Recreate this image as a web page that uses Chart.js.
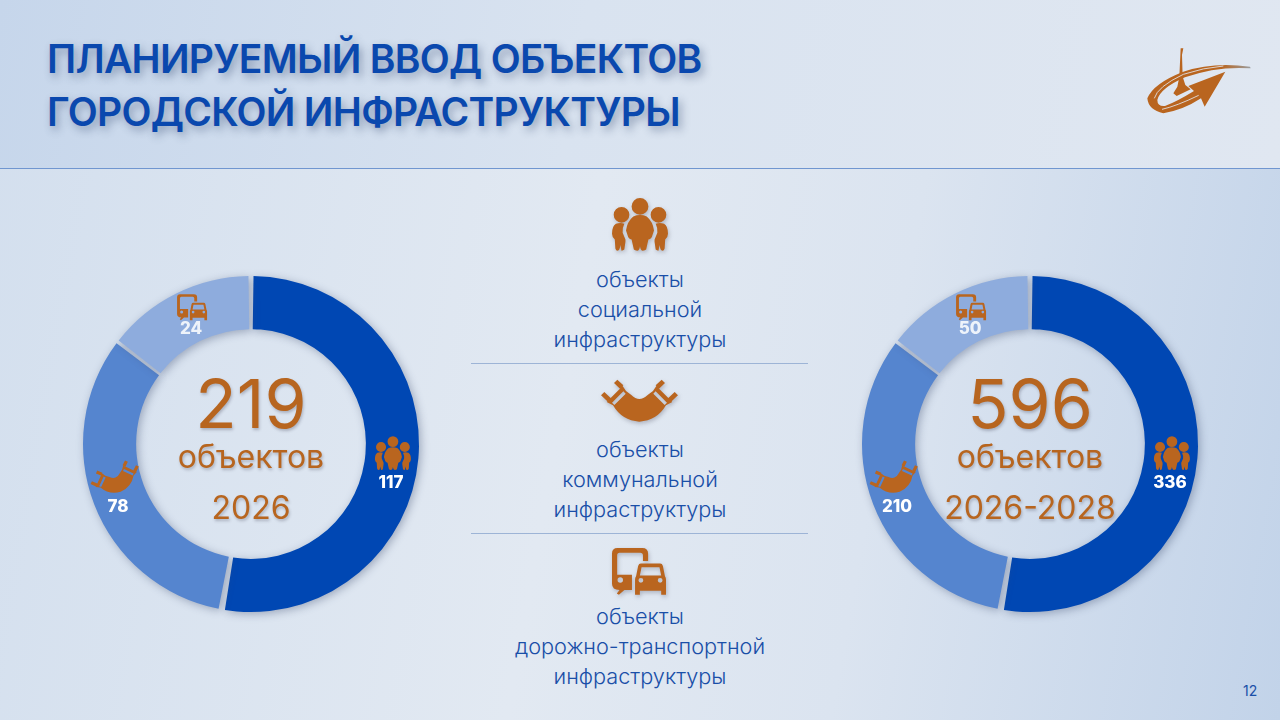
<!DOCTYPE html>
<html lang="ru">
<head>
<meta charset="utf-8">
<title>Планируемый ввод объектов</title>
<script src="https://cdn.jsdelivr.net/npm/chart.js@4"></script>
<style>
  html, body { margin: 0; padding: 0; }
  body { width: 1280px; height: 720px; position: relative; overflow: hidden; font-family: Inter, sans-serif;
    background: linear-gradient(100deg, #d3dfee 0%, #e2e9f2 45%, #dbe4f0 68%, #c2d3e9 100%); }
  .header { position: absolute; left: 0; top: 0; width: 1280px; height: 168px; border-bottom: 1px solid #7096d0;
    background: linear-gradient(100deg, #c6d6eb 0%, #d9e3f0 45%, #e0e7f1 100%); }
  .title { position: absolute; left: 47px; white-space: nowrap; color: #0a48ae; font-size: 39px; font-weight: 600;
    letter-spacing: -0.7px; line-height: 44px; text-shadow: 3px 4px 9px rgba(50, 70, 110, .45); }
  .sep { position: absolute; left: 471px; width: 337px; height: 1px; background: #9db4d6; }
  .cap { position: absolute; left: 440px; width: 400px; text-align: center; color: #1a4fa8; font-size: 21.7px; font-weight: 300;
    line-height: 30px; }
  canvas { position: absolute; }
  .mid { position: absolute; width: 230px; text-align: center; color: #b7651f; white-space: nowrap;
    text-shadow: 1px 2px 3px rgba(60, 60, 80, .3); }
  .big { font-size: 68px; font-weight: 400; line-height: 70px; }
  .word { font-size: 32px; font-weight: 400; line-height: 36px; }
  .year { font-size: 32px; font-weight: 400; line-height: 36px; }
  .icon { position: absolute; fill: #b9651f; fill-rule: evenodd; filter: drop-shadow(1px 2px 2px rgba(60, 60, 80, .3)); }
  .page { position: absolute; left: 1243px; top: 682px; color: #1a4fa8; font-size: 14px; }
</style>
</head>
<body>
<div class="header"></div>
<div class="title" style="top:37px">ПЛАНИРУЕМЫЙ ВВОД ОБЪЕКТОВ</div>
<div class="title" style="top:90px">ГОРОДСКОЙ ИНФРАСТРУКТУРЫ</div>

<svg id="logo" style="position:absolute;left:1120px;top:30px" width="150" height="100" viewBox="0 0 450 300">
  <defs><linearGradient id="tail" gradientUnits="userSpaceOnUse" x1="80" x2="392" y1="0" y2="0"><stop offset="0.72" stop-color="#b9651f"/><stop offset="1" stop-color="#9a9d9f"/></linearGradient></defs>
  <path fill="url(#tail)" d="M390 110Q280 95 190 125Q100 160 82 205Q85 240 130 250Q190 240 243 205L254 230L316 125L205 168L222 183Q170 215 135 228Q112 230 112 210Q120 175 195 142Q290 108 392 115Z"/>
  <path fill="#b9651f" d="M182 55L190 55L186 75L188 140L196 165L212 178L170 198L160 190L172 170L178 140Z"/>
  <path fill="none" stroke="#e3e9f2" stroke-width="2.5" d="M103 205Q112 170 190 133Q250 113 310 108"/>
  <path fill="none" stroke="#e3e9f2" stroke-width="2.5" d="M126 238Q170 228 236 196"/>
</svg>

<div id="captions"></div>
<div class="sep" style="top:363px"></div>
<div class="sep" style="top:533px"></div>
<div class="page">12</div>

<canvas id="chart2026" width="376" height="376" style="left:63px;top:256px"></canvas>
<canvas id="chart2028" width="376" height="376" style="left:842px;top:256px"></canvas>

<div class="mid big" style="left:136px;top:368px">219</div>
<div class="mid word" style="left:136px;top:439px">объектов</div>
<div class="mid year" style="left:136px;top:490px">2026</div>
<div class="mid big" style="left:915px;top:368px">596</div>
<div class="mid word" style="left:915px;top:439px">объектов</div>
<div class="mid year" style="left:915px;top:490px">2026-2028</div>

<script>
const categories = ['объекты социальной инфраструктуры', 'объекты коммунальной инфраструктуры', 'объекты дорожно-транспортной инфраструктуры'];
const values2026 = [117, 78, 24];
const values2028 = [336, 210, 50];
// на слайде секторы обеих диаграмм одинаковые и не совпадают с подписями, поэтому доли
const sliceShares = [53, 32.6, 14.4];
const sliceColors = ['#0047b3', '#5585cf', '#8eacdd'];

// иконки: контур и размер исходной сетки
const peopleIcon = { w: 100, h: 94, d: 'M65 15a15 15 0 1 0-30 0a15 15 0 1 0 30 0Z M31 30a14 14 0 1 0-28 0a14 14 0 1 0 28 0Z M97 30a14 14 0 1 0-28 0a14 14 0 1 0 28 0Z M38 33Q50 28 62 33Q73 42 75 58L71 70Q68 74 65 74L61 92Q59 94 55 94Q51 94 50 86Q49 94 45 94Q41 94 39 92L35 74Q32 74 29 70L25 58Q27 42 38 33Z M7 46Q15 43 22 46Q18 54 19 62L24 74L24 78L22 92Q20 94 17 94L15 84Q14 94 10 94Q7 94 6 90L5 74Q0 70 0 64Q0 50 7 46Z M93 46Q85 43 78 46Q82 54 81 62L76 74L76 78L78 92Q80 94 83 94L85 84Q86 94 90 94Q93 94 94 90L95 74Q100 70 100 64Q100 50 93 46Z' };
const pipeIcon = { w: 225, h: 125, d: 'M14 66L62 18L72 33L88 45Q100 57 112 57Q124 57 137 45L153 33L163 18L211 66L192 76Q165 122 112 125Q60 122 33 76Z M30 68L64 34L71 41L37 75Z M195 68L161 34L154 41L188 75Z M-3 46L7 36L26 54L16 64Z M36 9L46 -1L64 16L54 26Z M228 46L218 36L199 54L209 64Z M189 9L179 -1L161 16L171 26Z' };
const roadIcon = { w: 157, h: 138, d: 'M16 0H88Q105 0 105 17V38H90V22Q90 14 82 14H22Q15 14 15 22V78H58V122H36L20 136L14 132L22 122Q0 122 0 104V16Q0 0 16 0Z M32 93a8 8 0 1 0-16 0a8 8 0 1 0 16 0Z M84 45H140Q146 45 148 52L154 82Q157 86 157 92V136H143V124H81V136H67V92Q67 86 70 82L76 52Q78 45 84 45Z M86 56L81 80H143L138 56Z M91 94a7 7 0 1 0-14 0a7 7 0 1 0 14 0Z M147 94a7 7 0 1 0-14 0a7 7 0 1 0 14 0Z' };
const sliceIcons = [peopleIcon, pipeIcon, roadIcon];

// смещения иконок и подписей от центра сектора
const iconSizes = [36, 50, 30];
const iconTilts = [0, -0.35, 0];
const iconOffsets = [[1, -3], [-3, -16], [4, -10]];
const labelOffsets = [[-1, 27], [-1, 12], [3, 12]];

// подписи по центру слайда
const captionLines = [
  [['объекты', 264], ['социальной', 294], ['инфраструктуры', 324]],
  [['объекты', 434], ['коммунальной', 464], ['инфраструктуры', 494]],
  [['объекты', 601], ['дорожно-транспортной', 631], ['инфраструктуры', 661]],
];
const captionIcons = [
  { icon: peopleIcon, x: 612, y: 198, w: 56 },
  { icon: pipeIcon, x: 602, y: 380, w: 75 },
  { icon: roadIcon, x: 612, y: 548, w: 54 },
];

const captions = document.getElementById('captions');
captionLines.forEach((group) => {
  group.forEach(([text, top]) => {
    const line = document.createElement('div');
    line.className = 'cap';
    line.style.top = top + 'px';
    line.textContent = text;
    captions.appendChild(line);
  });
});
captionIcons.forEach(({ icon, x, y, w }) => {
  const h = w * icon.h / icon.w;
  captions.insertAdjacentHTML('beforeend',
    `<svg class="icon" style="left:${x}px;top:${y}px;overflow:visible" width="${w}" height="${h}" viewBox="0 0 ${icon.w} ${icon.h}"><path d="${icon.d}"/></svg>`);
});

// тень под кольцом
const ringShadow = {
  id: 'ringShadow',
  beforeDatasetsDraw(chart) {
    const ctx = chart.ctx;
    ctx.save();
    ctx.shadowColor = 'rgba(60, 75, 110, .4)';
    ctx.shadowBlur = 9;
    ctx.shadowOffsetX = 2;
    ctx.shadowOffsetY = 2;
  },
  afterDatasetsDraw(chart) {
    chart.ctx.restore();
  },
};

// иконка и число на каждом секторе
const sliceLabels = {
  id: 'sliceLabels',
  afterDraw(chart, args, opts) {
    const ctx = chart.ctx;
    chart.getDatasetMeta(0).data.forEach((arc, i) => {
      const p = arc.getCenterPoint();
      const icon = sliceIcons[i];
      const scale = iconSizes[i] / icon.w;
      ctx.save();
      ctx.translate(p.x + iconOffsets[i][0], p.y + iconOffsets[i][1]);
      ctx.rotate(iconTilts[i]);
      ctx.scale(scale, scale);
      ctx.translate(-icon.w / 2, -icon.h / 2);
      ctx.fillStyle = '#b9651f';
      ctx.fill(new Path2D(icon.d), 'evenodd');
      ctx.restore();

      ctx.save();
      ctx.font = '800 17px Inter, sans-serif';
      ctx.textAlign = 'center';
      ctx.textBaseline = 'middle';
      ctx.fillStyle = i === 2 ? '#eef3fa' : '#ffffff';
      ctx.fillText(String(opts.values[i]), p.x + labelOffsets[i][0], p.y + labelOffsets[i][1]);
      ctx.restore();
    });
  },
};

function createRing(canvasId, values) {
  new Chart(document.getElementById(canvasId), {
    type: 'doughnut',
    data: {
      labels: categories,
      datasets: [{
        data: sliceShares,
        backgroundColor: sliceColors,
        borderWidth: 0,
        spacing: 4,
        clip: false,
      }],
    },
    options: {
      responsive: false,
      animation: false,
      radius: 166,
      cutout: '68%',
      rotation: -0.5,
      plugins: {
        legend: { display: false },
        tooltip: { enabled: false },
        sliceLabels: { values },
      },
    },
    plugins: [ringShadow, sliceLabels],
  });
}

createRing('chart2026', values2026);
createRing('chart2028', values2028);
</script>
</body>
</html>
